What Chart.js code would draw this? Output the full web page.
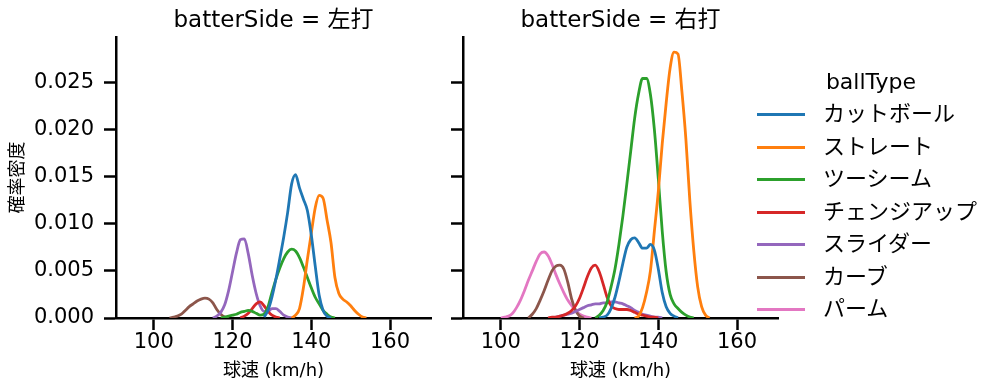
<!DOCTYPE html>
<html>
<head>
<meta charset="utf-8">
<script src="https://cdn.jsdelivr.net/npm/chart.js@4/dist/chart.umd.min.js"></script>
<style>
  body { margin: 0; background: #fff; }
  #wrap { position: relative; width: 1002px; height: 391px; font-family: "DejaVu Sans", "Noto Sans CJK JP", sans-serif; }
  canvas { position: absolute; top: 0; }
  #leftChart { left: 0; }
  #rightChart { left: 440px; }
  #legendTitle { position: absolute; left: 757px; width: 228px; top: 66px; text-align: center; font-size: 22px; line-height: 32px; }
  .row { position: absolute; left: 757px; height: 32px; line-height: 32px; font-size: 22px; white-space: nowrap; }
  .row span.swatch { position: absolute; left: 0; top: 15px; width: 48px; height: 3px; }
  .row span.label { position: absolute; left: 66px; top: 0; }
</style>
</head>
<body>
<div id="wrap">
  <canvas id="leftChart" width="440" height="391" style="width:440px;height:391px"></canvas>
  <canvas id="rightChart" width="350" height="391" style="width:350px;height:391px"></canvas>
  <div id="legendTitle">ballType</div>
  <div id="legend"></div>
</div>
<script>
const ballTypes = ['カットボール', 'ストレート', 'ツーシーム', 'チェンジアップ', 'スライダー', 'カーブ', 'パーム'];
const colors = ['#1f77b4', '#ff7f0e', '#2ca02c', '#d62728', '#9467bd', '#8c564b', '#e377c2'];
const xTicks = [100, 120, 140, 160];
const yTicks = [0, 0.005, 0.010, 0.015, 0.020, 0.025];

// densities read at 1 km/h steps; first value sits at the matching "from" speed
// batterSide = 左打 (no パーム)
const leftFrom = [128, 135, 117, 122, 115, 104, null];
const leftCutter = [0.0001, 0.0008, 0.0022, 0.0041, 0.0063, 0.0086, 0.0112, 0.0142, 0.0152, 0.0138, 0.0126, 0.0114, 0.0088, 0.0055, 0.0024, 0.0008, 0.0002, 0];
const leftStraight = [0, 0.0003, 0.0010, 0.0032, 0.0062, 0.0090, 0.0117, 0.0130, 0.0127, 0.0104, 0.0080, 0.0043, 0.0026, 0.0020, 0.0017, 0.0013, 0.0008, 0.0004, 0.0001, 0];
const leftTwoSeam = [0, 0.0001, 0.0002, 0.0003, 0.0004, 0.0006, 0.0007, 0.0008, 0.0007, 0.0005, 0.0003, 0.0004, 0.0012, 0.0027, 0.0041, 0.0053, 0.0063, 0.0070, 0.0073, 0.0071, 0.0064, 0.0054, 0.0043, 0.0032, 0.0022, 0.0015, 0.0008, 0.0004, 0.0001, 0];
const leftChangeup = [0, 0.0002, 0.0005, 0.0010, 0.0015, 0.0017, 0.0013, 0.0007, 0.0003, 0.0001, 0];
const leftSlider = [0, 0.0002, 0.0006, 0.0014, 0.0029, 0.0049, 0.0069, 0.0083, 0.0084, 0.0068, 0.0045, 0.0026, 0.0013, 0.0007, 0.0007, 0.0010, 0.0010, 0.0007, 0.0003, 0.0001, 0];
const leftCurve = [0, 0.0001, 0.0002, 0.0004, 0.0008, 0.0012, 0.0015, 0.0018, 0.0020, 0.0021, 0.0020, 0.0016, 0.0009, 0.0004, 0.0001, 0];

// batterSide = 右打
const rightFrom = [125, 134, 124, 112, 113, 107, 100];
const rightCutter = [0, 0.0001, 0.0003, 0.0010, 0.0022, 0.0039, 0.0058, 0.0075, 0.0083, 0.0085, 0.0080, 0.0074, 0.0074, 0.0078, 0.0072, 0.0052, 0.0027, 0.0012, 0.0005, 0.0002, 0];
const rightStraight = [0, 0.0002, 0.0011, 0.0027, 0.0050, 0.0092, 0.0134, 0.0185, 0.0228, 0.0265, 0.0282, 0.0280, 0.0240, 0.0190, 0.0125, 0.0072, 0.0033, 0.0012, 0.0003, 0];
const rightTwoSeam = [0, 0.0003, 0.0008, 0.0017, 0.0033, 0.0052, 0.0078, 0.0108, 0.0142, 0.0177, 0.0212, 0.0238, 0.0254, 0.0254, 0.0237, 0.0200, 0.0148, 0.0092, 0.0049, 0.0025, 0.0015, 0.0010, 0.0006, 0.0003, 0.0001, 0];
const rightChangeup = [0, 0.0001, 0.0001, 0.0002, 0.0003, 0.0005, 0.0008, 0.0013, 0.0021, 0.0032, 0.0044, 0.0053, 0.0056, 0.0049, 0.0036, 0.0022, 0.0013, 0.0010, 0.0009, 0.0009, 0.0009, 0.0008, 0.0006, 0.0004, 0.0003, 0.0002, 0.0001, 0.0001, 0];
const rightSlider = [0, 0.0001, 0.0002, 0.0003, 0.0004, 0.0005, 0.0007, 0.0009, 0.0011, 0.0013, 0.0014, 0.0015, 0.0015, 0.0016, 0.0016, 0.0017, 0.0017, 0.0016, 0.0015, 0.0013, 0.0011, 0.0008, 0.0006, 0.0004, 0.0003, 0.0002, 0.0001, 0.0001, 0];
const rightCurve = [0, 0.0004, 0.0010, 0.0019, 0.0029, 0.0040, 0.0050, 0.0055, 0.0056, 0.0052, 0.0038, 0.0020, 0.0008, 0.0002, 0];
const rightPalm = [0, 0.0001, 0.0002, 0.0005, 0.0011, 0.0019, 0.0029, 0.0040, 0.0050, 0.0060, 0.0068, 0.0070, 0.0066, 0.0057, 0.0046, 0.0036, 0.0027, 0.0019, 0.0013, 0.0008, 0.0004, 0.0002, 0.0001, 0];

const leftSeries = [leftCutter, leftStraight, leftTwoSeam, leftChangeup, leftSlider, leftCurve, null];
const rightSeries = [rightCutter, rightStraight, rightTwoSeam, rightChangeup, rightSlider, rightCurve, rightPalm];

const FONT = '"DejaVu Sans", "Noto Sans CJK JP", sans-serif';

function makeDatasets(series, from) {
  var out = [];
  series.forEach(function (vals, i) {
    if (!vals) return;
    out.push({
      label: ballTypes[i],
      data: vals.map(function (y, k) { return { x: from[i] + k, y: y }; }),
      borderColor: colors[i],
      backgroundColor: colors[i],
      borderWidth: 2.8,
      pointRadius: 0,
      fill: false,
      cubicInterpolationMode: 'monotone'
    });
  });
  return out;
}

// panel title centred over the plot area, like the facet titles
const panelTitle = {
  id: 'panelTitle',
  afterDraw(chart, args, opts) {
    const ctx = chart.ctx, a = chart.chartArea;
    ctx.save();
    ctx.font = '23px ' + FONT;
    ctx.fillStyle = '#000';
    ctx.textAlign = 'center';
    ctx.textBaseline = 'middle';
    ctx.fillText(opts.text, (a.left + a.right) / 2, 21);
    ctx.restore();
  }
};

function makeOptions(title, showY, yWidth) {
  return {
    responsive: false,
    animation: false,
    layout: { padding: { top: 37, right: showY ? 9 : 12, bottom: 0, left: 0 } },
    plugins: {
      legend: { display: false },
      tooltip: { enabled: false },
      panelTitle: { text: title }
    },
    scales: {
      x: {
        type: 'linear',
        min: 90.4,
        max: 170.4,
        afterBuildTicks(s) { s.ticks = xTicks.map(function (v) { return { value: v }; }); },
        ticks: { color: '#000', font: { size: 21, family: FONT }, padding: 0 },
        grid: { drawOnChartArea: false, drawTicks: true, tickLength: 12, tickWidth: 2.5, tickColor: '#000' },
        border: { color: '#000', width: 2.5 },
        title: { display: true, text: '球速 (km/h)', color: '#000', font: { size: 18, family: FONT }, padding: { top: 0, bottom: 9 } },
        afterFit(s) { s.height = 73; }
      },
      y: {
        min: 0,
        max: 0.0298,
        afterBuildTicks(s) { s.ticks = yTicks.map(function (v) { return { value: v }; }); },
        ticks: {
          display: showY,
          color: '#000',
          font: { size: 21, family: FONT },
          padding: 10,
          callback: function (v) { return v.toFixed(3); }
        },
        grid: { drawOnChartArea: false, drawTicks: true, tickLength: 12, tickWidth: 2.5, tickColor: '#000' },
        border: { color: '#000', width: 2.5 },
        title: { display: showY, text: '確率密度', color: '#000', font: { size: 18, family: FONT }, padding: { top: 8, bottom: 0 } },
        afterFit(s) { s.width = yWidth; }
      }
    }
  };
}

new Chart(document.getElementById('leftChart').getContext('2d'), {
  type: 'line',
  data: { datasets: makeDatasets(leftSeries, leftFrom) },
  options: makeOptions('batterSide = 左打', true, 116),
  plugins: [panelTitle]
});

new Chart(document.getElementById('rightChart').getContext('2d'), {
  type: 'line',
  data: { datasets: makeDatasets(rightSeries, rightFrom) },
  options: makeOptions('batterSide = 右打', false, 23),
  plugins: [panelTitle]
});

// legend to the right of the second panel
var legend = document.getElementById('legend');
ballTypes.forEach(function (name, i) {
  var row = document.createElement('div');
  row.className = 'row';
  row.style.top = (98 + i * 32.5) + 'px';
  row.innerHTML = '<span class="swatch" style="background:' + colors[i] + '"></span><span class="label">' + name + '</span>';
  legend.appendChild(row);
});
</script>
</body>
</html>
